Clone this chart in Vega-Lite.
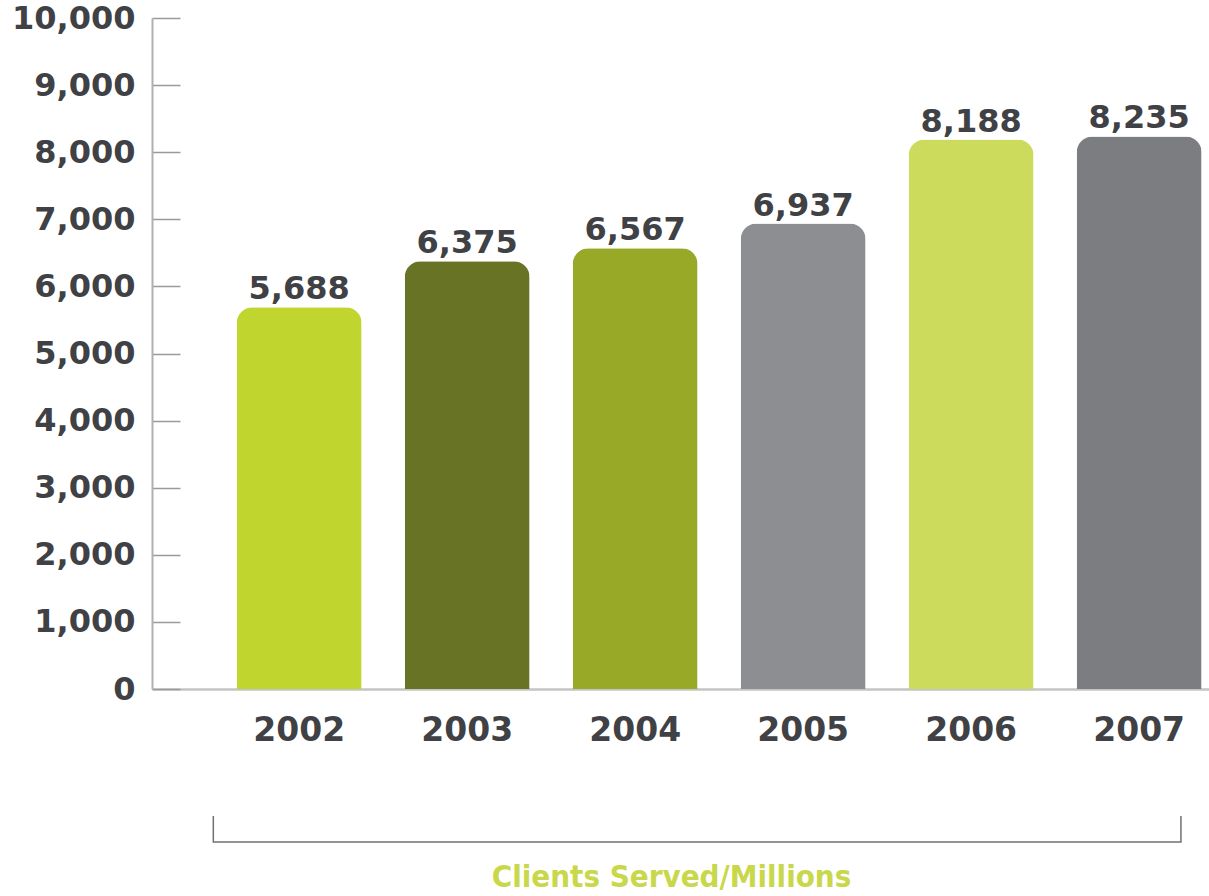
{
  "$schema": "https://vega.github.io/schema/vega-lite/v6.json",
  "width": 1057,
  "height": 671,
  "autosize": {"type": "none"},
  "padding": {"left": 152, "top": 18, "right": 0, "bottom": 207},
  "background": "white",
  "config": {"view": {"stroke": null}, "font": "DejaVu Sans"},
  "datasets": {
    "bars": [
      {"year": "2002", "clients": 5688},
      {"year": "2003", "clients": 6375},
      {"year": "2004", "clients": 6567},
      {"year": "2005", "clients": 6937},
      {"year": "2006", "clients": 8188},
      {"year": "2007", "clients": 8235}
    ],
    "bracket": [
      {"bx": 2001.49, "by": -1893, "o": 1},
      {"bx": 2001.49, "by": -2280, "o": 2},
      {"bx": 2007.25, "by": -2280, "o": 3},
      {"bx": 2007.25, "by": -1893, "o": 4}
    ]
  },
  "layer": [
    {
      "data": {"name": "bars"},
      "encoding": {
        "x": {
          "field": "year",
          "type": "ordinal",
          "scale": {"paddingInner": 0.256, "paddingOuter": 0.274, "align": 0.92},
          "axis": {
            "title": "Clients Served/Millions",
            "titleFont": "DejaVu Sans Condensed",
            "titleFontWeight": "bold",
            "titleFontSize": 31,
            "titleColor": "#c8d84a",
            "titlePadding": 115,
            "titleX": 519,
            "labelAngle": 0,
            "labelFont": "DejaVu Sans",
            "labelFontWeight": "bold",
            "labelFontSize": 33,
            "labelColor": "#404145",
            "labelPadding": 25,
            "ticks": false,
            "domainColor": "#c4c4c4",
            "domainWidth": 2.5
          }
        },
        "y": {
          "field": "clients",
          "type": "quantitative",
          "scale": {"domain": [0, 10000], "nice": false},
          "axis": {
            "title": null,
            "values": [0, 1000, 2000, 3000, 4000, 5000, 6000, 7000, 8000, 9000, 10000],
            "labelExpr": "format(datum.value, ',')",
            "grid": false,
            "labelFlush": false,
            "labelOverlap": false,
            "labelFont": "DejaVu Sans",
            "labelFontWeight": "bold",
            "labelFontSize": 32,
            "labelColor": "#404145",
            "labelPadding": 45,
            "tickSize": -28,
            "tickColor": "#9a9a9a",
            "tickWidth": 1.5,
            "domainColor": "#b0b0b0",
            "domainWidth": 2
          }
        }
      },
      "layer": [
        {
          "mark": {"type": "bar", "cornerRadiusTopLeft": 16, "cornerRadiusTopRight": 16},
          "encoding": {
            "color": {
              "field": "year",
              "type": "nominal",
              "scale": {
                "domain": ["2002", "2003", "2004", "2005", "2006", "2007"],
                "range": ["#c1d52f", "#687325", "#97a926", "#8d8e92", "#ccdb5c", "#7c7d81"]
              },
              "legend": null
            }
          }
        },
        {
          "mark": {"type": "text", "dy": -8, "baseline": "alphabetic", "font": "DejaVu Sans", "fontWeight": "bold", "fontSize": 32, "color": "#404145"},
          "encoding": {
            "text": {"field": "clients", "type": "quantitative", "format": ","}
          }
        }
      ]
    },
    {
      "data": {"name": "bracket"},
      "mark": {"type": "line", "color": "#707070", "strokeWidth": 1.5, "clip": false},
      "encoding": {
        "x": {"field": "bx", "type": "quantitative", "scale": {"domain": [2001.125, 2007.417], "nice": false, "zero": false}, "axis": null},
        "y": {
          "field": "by",
          "type": "quantitative",
          "axis": {
            "title": null,
            "values": [0, 1000, 2000, 3000, 4000, 5000, 6000, 7000, 8000, 9000, 10000],
            "labelExpr": "format(datum.value, ',')",
            "grid": false,
            "labelFlush": false,
            "labelOverlap": false,
            "labelFont": "DejaVu Sans",
            "labelFontWeight": "bold",
            "labelFontSize": 32,
            "labelColor": "#404145",
            "labelPadding": 45,
            "tickSize": -28,
            "tickColor": "#9a9a9a",
            "tickWidth": 1.5,
            "domainColor": "#b0b0b0",
            "domainWidth": 2
          }
        },
        "order": {"field": "o", "type": "quantitative"}
      }
    }
  ],
  "resolve": {"scale": {"x": "independent"}}
}
